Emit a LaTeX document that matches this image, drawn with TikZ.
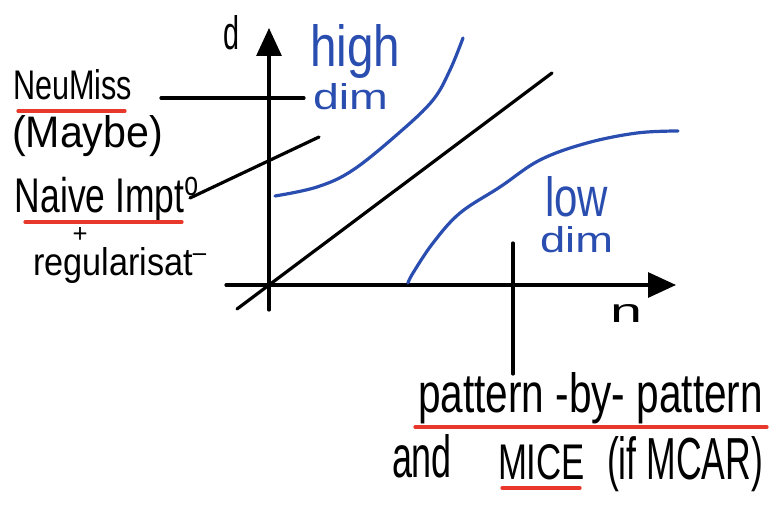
\documentclass[tikz,border=0pt]{standalone}
\usepackage{fontspec}
\setmainfont{Liberation Sans}
\usetikzlibrary{arrows.meta}
\definecolor{inkblue}{HTML}{2A4DB0}
\definecolor{inkred}{HTML}{E8382B}
\newcommand\hw[3]{\resizebox{#1pt}{#2pt}{#3}}
\begin{document}
\begin{tikzpicture}[x=1pt,y=-1pt,
  ink/.style={line width=3.2pt, line cap=round},
  blueink/.style={ink, inkblue},
  redline/.style={line width=3.2pt, inkred, line cap=round},
  txt/.style={anchor=base west, inner sep=0pt, outer sep=0pt},
  axis/.style={ink, -{Triangle[length=28pt,width=25pt]}}]
\useasboundingbox (0,0) rectangle (772,518);
% axes
\coordinate (yb) at (269,310); \coordinate (yt) at (269,28);
\coordinate (xl) at (226,285); \coordinate (xr) at (676,285);
\draw[axis] (yb) -- (yt);
\draw[axis] (xl) -- (xr);
% diagonal
\coordinate (d1) at (237,309); \coordinate (d2) at (552,73);
\draw[ink] (d1) -- (d2);
% pointer lines
\coordinate (nm1) at (161,98); \coordinate (nm2) at (304,98);
\draw[ink] (nm1) -- (nm2);
\coordinate (ni1) at (190,198); \coordinate (ni2) at (319,137);
\draw[ink] (ni1) -- (ni2);
\coordinate (pp1) at (513,243); \coordinate (pp2) at (513,374);
\draw[ink] (pp1) -- (pp2);
% blue curves
\draw[blueink] plot[smooth, tension=0.6] coordinates {(275,196) (317,187) (353,170) (400,132) (433,100) (450,70) (463,38)};
\draw[blueink] plot[smooth, tension=0.6] coordinates {(408,283) (413,273) (433,243) (460,213) (500,187) (540,160) (587,143) (637,133) (678,131)};
% labels
\node[txt] (d) at (223,50) {\hw{16}{34}{d}};
\node[txt, text=inkblue] (high) at (310,67) {\hw{90}{42}{high}};
\node[txt, text=inkblue] (dimh) at (313,110) {\hw{75}{26}{dim}};
\node[txt, text=inkblue] (low) at (545,217) {\hw{63}{40}{low}};
\node[txt, text=inkblue] (diml) at (540,253) {\hw{73}{26}{dim}};
\node[txt] (n) at (610,323) {\hw{32}{18}{n}};
\node[txt] (neumiss) at (13,100) {\hw{119}{30}{NeuMiss}};
\node[txt] (maybe) at (12,148) {\hw{151}{32}{(Maybe)}};
\node[txt] (naive) at (15,213) {\hw{185}{36}{Naive Impt\textsuperscript{o}}};
\node[inner sep=0pt] (plus) at (80,235) {\hw{15}{15}{+}};
\node[txt] (reg) at (33,276) {\hw{175}{28}{regularisat\textsuperscript{--}}};
\node[txt] (pbp) at (418,413) {\hw{345}{40}{pattern -by- pattern}};
\node[txt] (and) at (392,478) {\hw{60}{43}{and}};
\node[txt] (mice) at (498,480) {\hw{87}{35}{MICE}};
\node[txt] (mcar) at (607,480) {\hw{156}{43}{(if MCAR)}};
% red underlines
\coordinate (u1a) at (18,111); \coordinate (u1b) at (125,111);
\draw[redline] (u1a) -- (u1b);
\coordinate (u2a) at (25,222); \coordinate (u2b) at (182,222);
\draw[redline] (u2a) -- (u2b);
\coordinate (u3a) at (415,427); \coordinate (u3b) at (767,427);
\draw[redline] (u3a) -- (u3b);
\coordinate (u4a) at (502,488); \coordinate (u4b) at (580,488);
\draw[redline] (u4a) -- (u4b);
\end{tikzpicture}
\end{document}
